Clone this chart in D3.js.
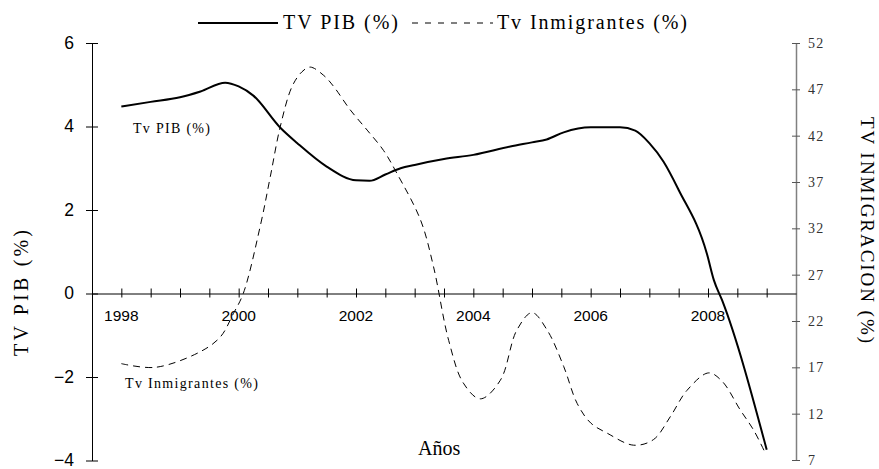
<!DOCTYPE html>
<html><head><meta charset="utf-8">
<script src="https://cdn.jsdelivr.net/npm/d3@7"></script>
<style>body{margin:0;background:#fff}svg{display:block}</style>
</head><body><svg id="c" width="879" height="469"></svg>
<script>
const pibYears = [1998.0,1998.5,1999.0,1999.35,1999.77,2000.0,2000.25,2000.71,2001.0,2001.5,2002.0,2002.23,2002.5,2002.76,2003.0,2003.5,2004.0,2004.63,2005.0,2005.25,2005.54,2006.0,2006.5,2006.76,2007.0,2007.24,2007.5,2007.98,2008.1,2008.24,2009.0];
const pibValues = [4.48,4.59,4.70,4.84,5.05,4.96,4.74,3.97,3.60,3.04,2.71,2.70,2.85,3.00,3.08,3.22,3.32,3.52,3.62,3.69,3.86,3.98,3.98,3.90,3.60,3.16,2.48,0.96,0.32,-0.16,-3.74];
const inmYears = [1998.0,1998.58,1999.35,1999.69,1999.91,2000.08,2000.37,2000.54,2000.71,2000.91,2001.08,2001.22,2001.45,2001.62,2001.9,2002.19,2002.47,2002.7,2003.1,2003.32,2003.58,2003.83,2004.12,2004.46,2004.74,2005.0,2005.26,2005.54,2005.77,2006.0,2006.28,2006.73,2007.07,2007.36,2007.64,2008.01,2008.24,2008.55,2008.78,2008.98];
const inmValues = [17.4,17.0,18.7,20.3,22.8,25.0,32.3,37.6,43.0,47.3,48.9,49.4,48.5,47.3,44.8,42.6,40.4,37.9,32.9,27.9,19.9,15.3,13.6,15.6,21.0,22.9,21.0,17.1,13.1,11.0,9.9,8.6,9.2,11.7,14.5,16.4,15.5,12.4,10.2,7.7];
const leftTicks = [-4,-2,0,2,4,6];
const rightTicks = [7,12,17,22,27,32,37,42,47,52];
const yearLabels = [1998,2000,2002,2004,2006,2008];

const svg = d3.select("#c");
const serif = "'Liberation Serif','Times New Roman',serif";
const sans = "'Liberation Sans',Arial,sans-serif";
const x = d3.scaleLinear().domain([1997.5,2009.5]).range([92,796]);
const yL = d3.scaleLinear().domain([-4,6]).range([460.5,43]);
const yR = d3.scaleLinear().domain([7,52]).range([460,43]);

// left axis
const gL = svg.append("g").attr("transform","translate(92,0)")
  .call(d3.axisLeft(yL).tickValues(leftTicks).tickSize(6).tickPadding(12).tickSizeOuter(0));
gL.select(".domain").attr("stroke","#000");
gL.selectAll(".tick line").attr("x2",6).attr("x1",-6).attr("stroke","#000");
gL.selectAll("text").attr("font-family",sans).attr("font-size",17.5).attr("fill","#000").attr("x",-18).attr("dy","0.3em");

// right axis
const gR = svg.append("g").attr("transform","translate(796,0)")
  .call(d3.axisRight(yR).tickValues(rightTicks).tickSize(4).tickSizeOuter(0));
gR.select(".domain").attr("stroke","#808080").attr("stroke-width",1.5);
gR.selectAll(".tick line").attr("x1",-4).attr("x2",4).attr("stroke","#555");
gR.selectAll("text").attr("font-family",serif).attr("font-size",14).attr("fill","#333")
  .attr("x",12).attr("letter-spacing",1.2);

// x axis
const xTicks = d3.range(0,25).map(i=>1997.5+i*0.5);
const gX = svg.append("g").attr("transform",`translate(0,${yL(0)})`)
  .call(d3.axisBottom(x).tickValues(xTicks).tickSize(5).tickSizeOuter(0).tickFormat(""));
gX.select(".domain").attr("stroke","#000");
gX.selectAll(".tick line").attr("y1",-5).attr("y2",4).attr("stroke","#000");
gX.selectAll(".tick").filter(d=>d===1997.5||d===2009.5).remove();
svg.append("g").selectAll("text").data(yearLabels).join("text")
  .attr("x",d=>x(d)).attr("y",321).attr("text-anchor","middle")
  .attr("font-family",sans).attr("font-size",15.5).text(d=>d);

// lines
const linePib = d3.line().x((d,i)=>x(pibYears[i])).y(d=>yL(d)).curve(d3.curveMonotoneX);
const lineInm = d3.line().x((d,i)=>x(inmYears[i])).y(d=>yR(d)).curve(d3.curveCatmullRom.alpha(0.5));
svg.append("path").attr("d",lineInm(inmValues)).attr("fill","none").attr("stroke","#000")
  .attr("stroke-width",1).attr("stroke-dasharray","7,5");
svg.append("path").attr("d",linePib(pibValues)).attr("fill","none").attr("stroke","#000")
  .attr("stroke-width",2);

// legend
svg.append("line").attr("x1",198).attr("x2",278).attr("y1",23).attr("y2",23).attr("stroke","#000").attr("stroke-width",2);
svg.append("text").attr("x",283).attr("y",29).attr("font-family",serif).attr("font-size",20)
  .attr("textLength",115).attr("lengthAdjust","spacing").text("TV PIB (%)");
svg.append("line").attr("x1",412).attr("x2",493).attr("y1",23).attr("y2",23).attr("stroke","#000").attr("stroke-width",1).attr("stroke-dasharray","6,7");
svg.append("text").attr("x",497).attr("y",29).attr("font-family",serif).attr("font-size",20)
  .attr("textLength",190).attr("lengthAdjust","spacing").text("Tv Inmigrantes (%)");

// annotations
svg.append("text").attr("x",133).attr("y",133).attr("font-family",serif).attr("font-size",14)
  .attr("textLength",77).attr("lengthAdjust","spacing").text("Tv PIB (%)");
svg.append("text").attr("x",125).attr("y",388).attr("font-family",serif).attr("font-size",14)
  .attr("textLength",133).attr("lengthAdjust","spacing").text("Tv Inmigrantes (%)");

// axis titles
svg.append("text").attr("transform","translate(28,293) rotate(-90)").attr("text-anchor","middle")
  .attr("font-family",serif).attr("font-size",20).attr("textLength",126).attr("lengthAdjust","spacing").text("TV PIB (%)");
svg.append("text").attr("transform","translate(861,230) rotate(90)").attr("text-anchor","middle")
  .attr("font-family",serif).attr("font-size",19).attr("textLength",226).attr("lengthAdjust","spacing").text("TV INMIGRACION (%)");
svg.append("text").attr("x",418).attr("y",455).attr("font-family",serif).attr("font-size",20).text("Años");
</script></body></html>
